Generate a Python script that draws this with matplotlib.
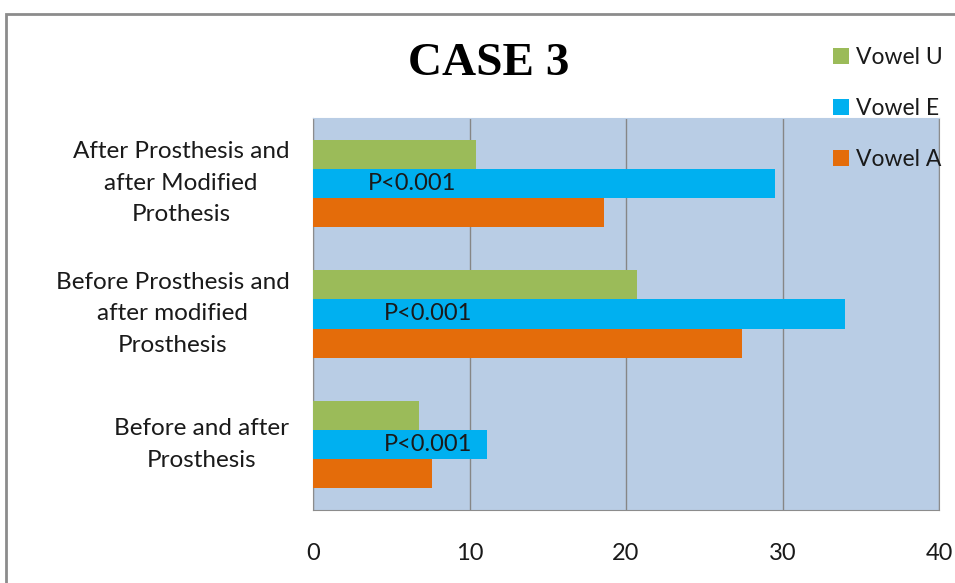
import numpy as np
import matplotlib.pyplot as plt
from matplotlib.patches import Rectangle

# scores per comparison, bottom group first
categories = ["Before and after\nProsthesis",
              "Before Prosthesis and\nafter modified\nProsthesis",
              "After Prosthesis and\nafter Modified\nProthesis"]
vowel_u = [6.8, 20.7, 10.4]
vowel_e = [11.1, 34.0, 29.5]
vowel_a = [7.6, 27.4, 18.6]
p_labels = ["P<0.001", "P<0.001", "P<0.001"]
p_label_x = [4.5, 4.5, 3.5]
x_ticks = [0, 10, 20, 30, 40]

plt.rcParams['font.family'] = ['Lato', 'DejaVu Sans']

fig = plt.figure(figsize=(9.55, 5.83), dpi=100)
fig.patch.set_facecolor('white')

# outer chart frame, running off the right and bottom edge
fig.patches.append(Rectangle((6 / 955, -0.1), 1.2, (583 - 14) / 583 + 0.1,
                             transform=fig.transFigure, fill=False,
                             edgecolor='#8c8c8c', linewidth=2))

ax = fig.add_axes([313 / 955, 1 - 510 / 583, (939 - 313) / 955, (510 - 118) / 583])
ax.set_facecolor('#b9cde5')

y = np.arange(len(categories))
h = 0.222
ax.barh(y + h, vowel_u, height=h, color='#9bbb59', label='Vowel U', zorder=3)
ax.barh(y, vowel_e, height=h, color='#00b0f0', label='Vowel E', zorder=3)
ax.barh(y - h, vowel_a, height=h, color='#e46c0a', label='Vowel A', zorder=3)

for yi, xi, txt in zip(y, p_label_x, p_labels):
    ax.text(xi, yi, txt, fontsize=17, va='center', ha='left', color='#1a1a1a', zorder=4)

ax.set_xlim(0, 40)
ax.set_ylim(-0.5, 2.5)
ax.set_xticks(x_ticks)
ax.set_xticklabels([str(t) for t in x_ticks], fontsize=17, color='#1a1a1a')
ax.set_yticks(y)
ax.set_yticklabels(categories, fontsize=17.5, multialignment='center',
                   linespacing=1.62, color='#1a1a1a', va='center')
ax.tick_params(axis='both', length=0)
ax.tick_params(axis='x', pad=24)
ax.tick_params(axis='y', pad=17)
ax.xaxis.grid(True, color='#868686', linewidth=1, zorder=1)
ax.set_axisbelow(True)
for side in ['left', 'bottom', 'right']:
    ax.spines[side].set_color('#8c8c8c')
ax.spines['top'].set_color('#b9cde5')

fig.text(489 / 955, 1 - 64 / 583, "CASE 3", family='Liberation Serif',
         fontweight='bold', fontsize=34, ha='center', va='center')

handles, labels = ax.get_legend_handles_labels()
fig.legend(handles, labels, loc='upper left', bbox_to_anchor=(824 / 955, 1 - 38 / 583),
           frameon=False, fontsize=16.5, handlelength=0.7, handleheight=0.7,
           handletextpad=0.3, labelspacing=1.3, borderaxespad=0,
           labelcolor='#1a1a1a')

fig.savefig('out.png', dpi=100)
